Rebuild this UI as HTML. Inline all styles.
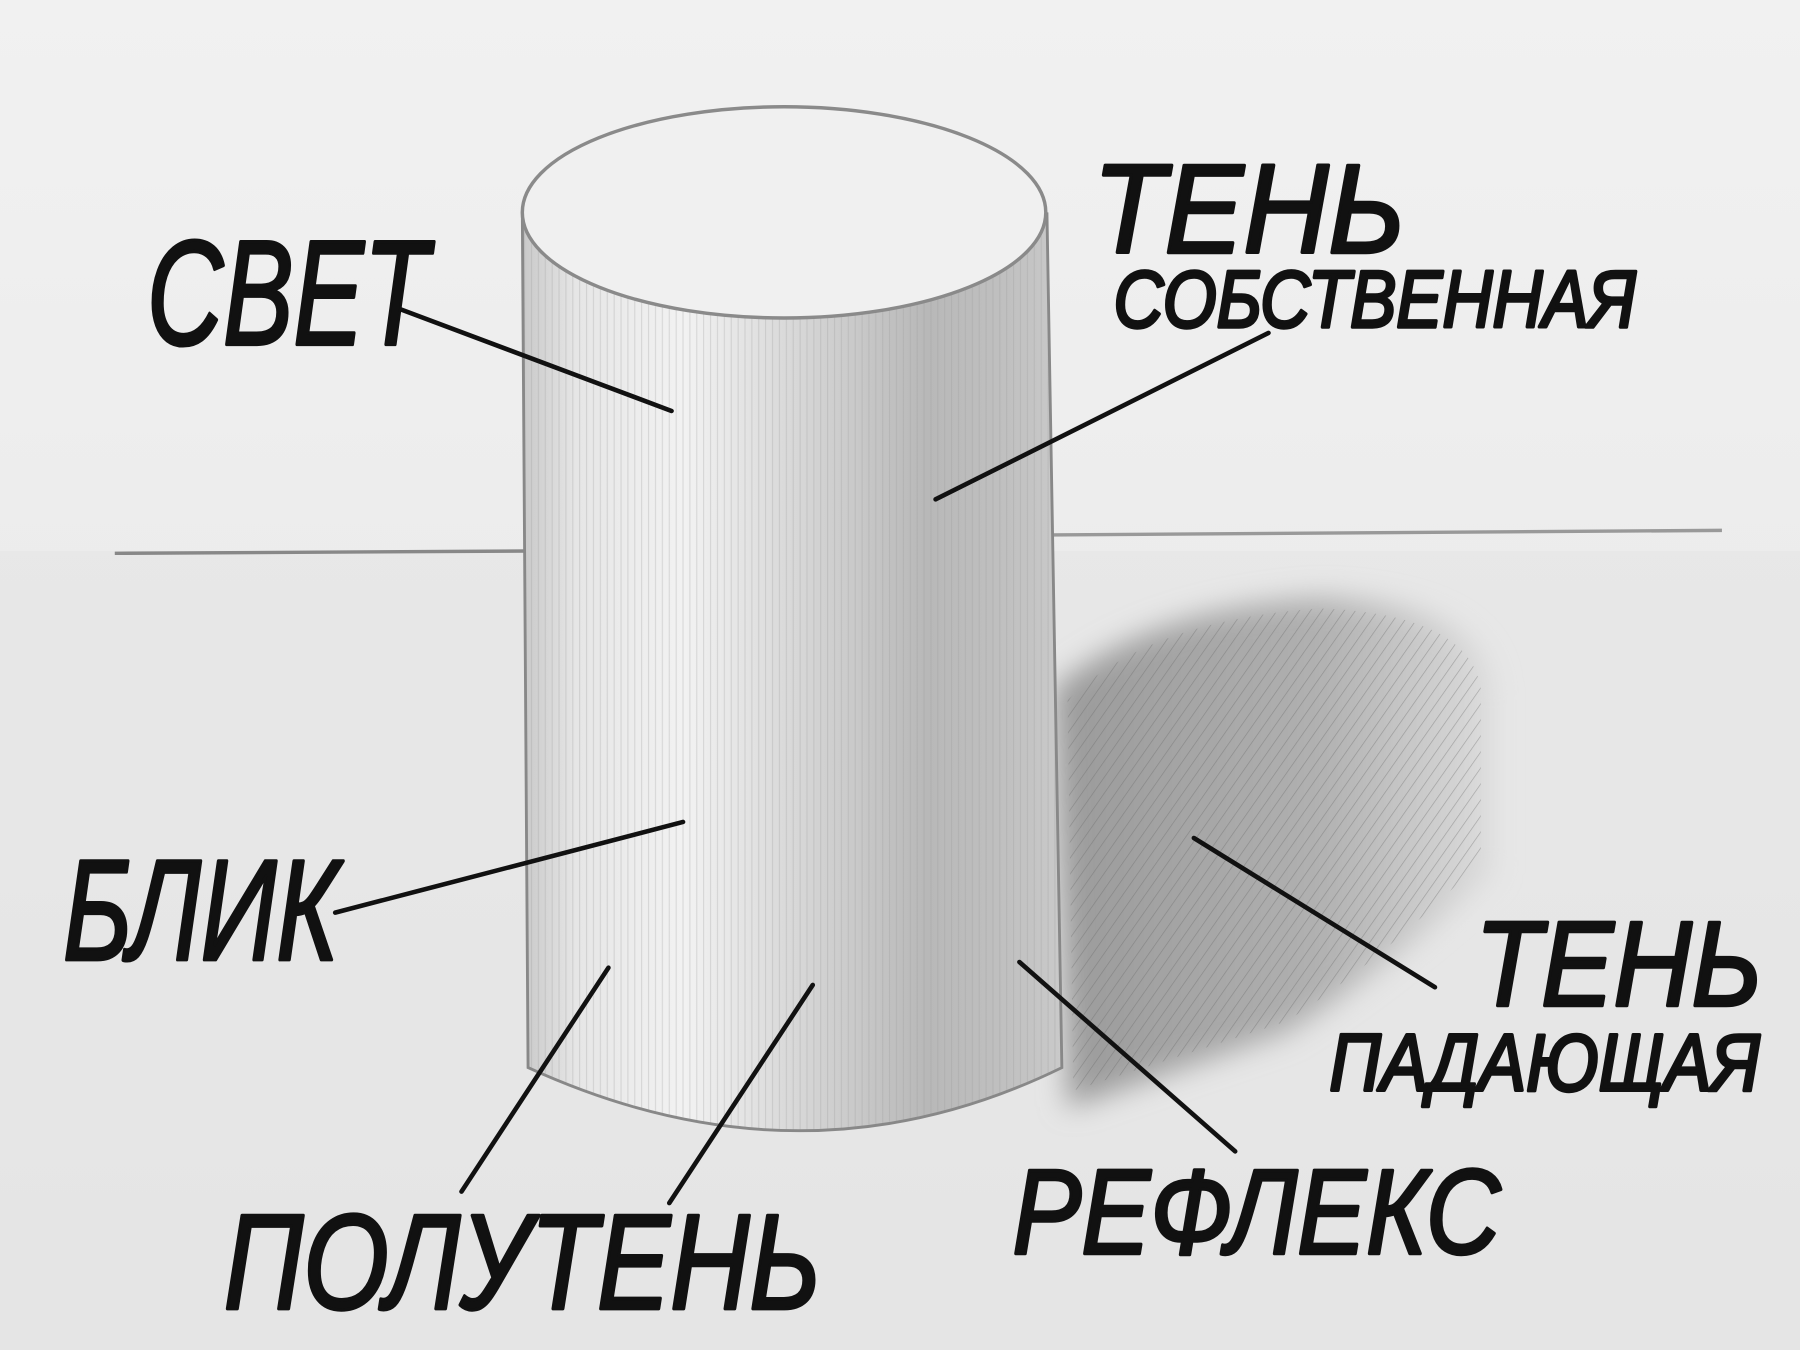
<!DOCTYPE html>
<html><head><meta charset="utf-8"><style>html,body{margin:0;padding:0;background:#eee}svg{display:block}</style></head>
<body>
<svg width="1800" height="1350" viewBox="0 0 1568 1176" preserveAspectRatio="none" xmlns="http://www.w3.org/2000/svg">
<defs>
<linearGradient id="bg" x1="0" y1="0" x2="0" y2="1"><stop offset="0" stop-color="#f1f1f1"/><stop offset="1" stop-color="#e6e6e6"/></linearGradient>
<linearGradient id="body" x1="0" y1="0" x2="1" y2="0">
<stop offset="0" stop-color="#c9c9c9"/><stop offset="0.1" stop-color="#e6e6e6"/><stop offset="0.3" stop-color="#f2f2f2"/>
<stop offset="0.55" stop-color="#d2d2d2"/><stop offset="0.75" stop-color="#b8b8b8"/><stop offset="0.9" stop-color="#c0c0c0"/><stop offset="1" stop-color="#cacaca"/></linearGradient>
<linearGradient id="sh" x1="0" y1="0" x2="1" y2="0"><stop offset="0" stop-color="#9a9a9a"/><stop offset="0.6" stop-color="#b0b0b0"/><stop offset="1" stop-color="#dcdcdc"/></linearGradient>
<pattern id="vl" width="6" height="10" patternUnits="userSpaceOnUse"><line x1="1" y1="0" x2="1" y2="10" stroke="#999" stroke-width="0.8" opacity="0.35"/></pattern>
<pattern id="hatch" width="8" height="8" patternUnits="userSpaceOnUse" patternTransform="rotate(35)"><line x1="0" y1="0" x2="0" y2="8" stroke="#666" stroke-width="1.2" opacity="0.45"/></pattern>
<filter id="blur"><feGaussianBlur stdDeviation="12"/></filter>
</defs>
<rect width="1568" height="1176" fill="url(#bg)"/>
<rect x="0" y="480" width="1568" height="696" fill="#e4e4e4" opacity="0.6"/>
<line x1="100" y1="482" x2="460" y2="480" stroke="#888" stroke-width="3"/>
<line x1="915" y1="466" x2="1500" y2="462" stroke="#999" stroke-width="3"/>
<g filter="url(#blur)">
<path d="M918 600 Q1000 530 1150 520 Q1290 525 1300 600 L1300 760 Q1200 850 1120 900 L930 965 Z" fill="url(#sh)"/>
</g>
<path d="M930 610 Q1000 540 1150 530 Q1280 535 1290 600 L1290 750 Q1200 840 1120 890 L935 950 Z" fill="url(#hatch)"/>
<path d="M455 185 L912 185 L925 930 Q700 1040 460 930 Z" fill="url(#body)"/>
<path d="M455 185 L912 185 L925 930 Q700 1040 460 930 Z" fill="url(#vl)"/>
<path d="M455 185 L460 930 Q700 1040 925 930 L912 185" fill="none" stroke="#888" stroke-width="2.5"/>
<ellipse cx="683" cy="185" rx="228" ry="92" fill="#f0f0f0" stroke="#8a8a8a" stroke-width="3"/>
<g stroke="#111" stroke-width="4" stroke-linecap="round">
<line x1="345" y1="268" x2="585" y2="358"/>
<line x1="1105" y1="290" x2="815" y2="435"/>
<line x1="595" y1="716" x2="292" y2="795"/>
<line x1="530" y1="843" x2="402" y2="1038"/>
<line x1="708" y1="858" x2="583" y2="1048"/>
<line x1="888" y1="838" x2="1076" y2="1003"/>
<line x1="1040" y1="730" x2="1250" y2="860"/>
</g>
<g font-family="'Liberation Sans Narrow','Liberation Sans','DejaVu Sans',sans-serif" font-weight="normal" font-style="italic" fill="#111" stroke="#111" stroke-width="3" stroke-linejoin="round">
<text x="128" y="300" font-size="130" textLength="245" lengthAdjust="spacingAndGlyphs">СВЕТ</text>
<text x="952" y="220" font-size="110" textLength="272" lengthAdjust="spacingAndGlyphs">ТЕНЬ</text>
<text x="970" y="285" font-size="70" textLength="455" lengthAdjust="spacingAndGlyphs">СОБСТВЕННАЯ</text>
<text x="55" y="836" font-size="125" textLength="240" lengthAdjust="spacingAndGlyphs">БЛИК</text>
<text x="1285" y="876" font-size="105" textLength="250" lengthAdjust="spacingAndGlyphs">ТЕНЬ</text>
<text x="1158" y="950" font-size="70" textLength="375" lengthAdjust="spacingAndGlyphs">ПАДАЮЩАЯ</text>
<text x="882" y="1092" font-size="105" textLength="425" lengthAdjust="spacingAndGlyphs">РЕФЛЕКС</text>
<text x="195" y="1140" font-size="118" textLength="520" lengthAdjust="spacingAndGlyphs">ПОЛУТЕНЬ</text>
</g>
</svg>
</body></html>
